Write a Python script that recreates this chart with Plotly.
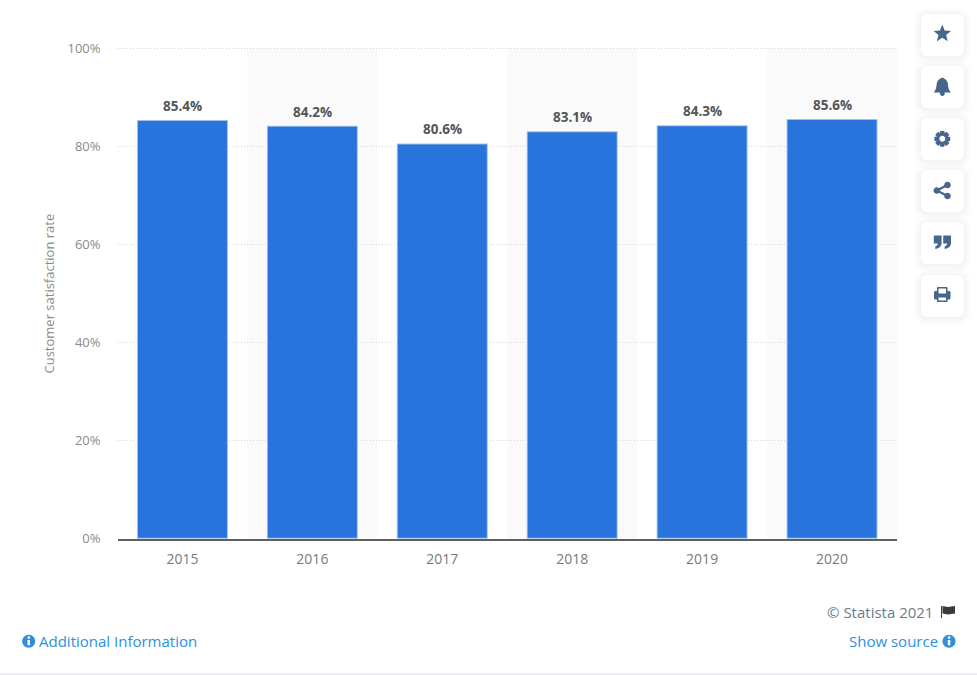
import math
import plotly.graph_objects as go

years = ["2015", "2016", "2017", "2018", "2019", "2020"]
satisfaction = [85.4, 84.2, 80.6, 83.1, 84.3, 85.6]
y_ticks = [0, 20, 40, 60, 80, 100]
y_title = "Customer satisfaction rate"

W, H = 977, 675
L, R, T, B = 117.5, 897, 48.3, 538.7
HEAD = 0.4  # axis headroom above 100 so the 100% gridline is kept
FONT = "Open Sans"
ICON = "#46668c"
BLUE = "#2874dc"
LINK = "#2e8fe0"


def px(x):
    return x / W


def py(y):
    return 1 - y / H


def path(cmds):
    out = []
    for c in cmds:
        if isinstance(c, str):
            out.append(c)
        else:
            out.append(f"{px(c[0]):.5f},{py(c[1]):.5f}")
    return " ".join(out)


def poly(pts):
    s = []
    for i, p in enumerate(pts):
        s += ["M" if i == 0 else "L", p]
    return path(s + ["Z"])


def rrect(x0, y0, x1, y1, r):
    k = 0.45 * r
    return path([
        "M", (x0 + r, y0), "L", (x1 - r, y0), "C", (x1 - k, y0), (x1, y0 + k), (x1, y0 + r),
        "L", (x1, y1 - r), "C", (x1, y1 - k), (x1 - k, y1), (x1 - r, y1),
        "L", (x0 + r, y1), "C", (x0 + k, y1), (x0, y1 - k), (x0, y1 - r),
        "L", (x0, y0 + r), "C", (x0, y0 + k), (x0 + k, y0), (x0 + r, y0), "Z",
    ])


def circle(cx, cy, r):
    return rrect(cx - r, cy - r, cx + r, cy + r, r)


def fill(p, color, opacity=1.0):
    return dict(type="path", xref="paper", yref="paper", path=p, fillcolor=color,
                line=dict(width=0), opacity=opacity, layer="above")


shapes = []

# alternating column bands behind the bars
for i in range(1, len(years), 2):
    shapes.append(dict(type="rect", xref="x", yref="paper", x0=i - 0.5, x1=i + 0.5,
                       y0=py(B), y1=py(T), fillcolor="#fafafa", line=dict(width=0), layer="below"))

# page footer rule
shapes.append(dict(type="rect", xref="paper", yref="paper", x0=0, x1=1, y0=py(675), y1=py(673.3),
                   fillcolor="#e9ebee", line=dict(width=0), layer="above"))

# tool buttons
btn_tops = [14, 66, 118, 170, 222, 275]
for top in btn_tops:
    for grow, op in ((7, 0.010), (5, 0.014), (3, 0.016), (1.5, 0.02)):
        shapes.append(fill(rrect(921 - grow, top - grow + 1, 964 + grow, top + 42 + grow + 1, 6 + grow), "#3c5064", op))
    shapes.append(fill(rrect(921, top, 964, top + 42, 6), "#ffffff"))

# star
cx, cy = 942.3, 33.8
shapes.append(fill(poly([(cx + (9.2 if k % 2 == 0 else 4.0) * math.sin(k * math.pi / 5),
                          cy - (9.2 if k % 2 == 0 else 4.0) * math.cos(k * math.pi / 5)) for k in range(10)]), ICON))
# bell
cx, cy = 942.3, 86.5
shapes.append(fill(path(["M", (cx - 8.5, cy + 6), "C", (cx - 5.5, cy + 2), (cx - 6, cy - 1), (cx - 5.5, cy - 3),
                         "C", (cx - 5, cy - 6.5), (cx - 2, cy - 8), (cx, cy - 9),
                         "C", (cx + 2, cy - 8), (cx + 5, cy - 6.5), (cx + 5.5, cy - 3),
                         "C", (cx + 6, cy - 1), (cx + 5.5, cy + 2), (cx + 8.5, cy + 6), "Z"]), ICON))
shapes.append(fill(circle(cx, cy + 7, 2.4), ICON))
# gear
cx, cy = 942.3, 138.8
pts = []
for k in range(8):
    a = k * math.pi / 4
    pts.append((cx + 8.2 * math.sin(a - 0.26), cy - 8.2 * math.cos(a - 0.26)))
    pts.append((cx + 8.2 * math.sin(a + 0.26), cy - 8.2 * math.cos(a + 0.26)))
    pts.append((cx + 5.8 * math.sin(a + 0.42), cy - 5.8 * math.cos(a + 0.42)))
    pts.append((cx + 5.8 * math.sin(a + math.pi / 4 - 0.42), cy - 5.8 * math.cos(a + math.pi / 4 - 0.42)))
shapes.append(fill(poly(pts), ICON))
shapes.append(fill(circle(cx, cy, 3.0), "#ffffff"))
# share
a, b, c = (936.8, 190.5), (947.5, 185), (947.5, 196)
shapes.append(fill(poly([(a[0], a[1] - 1.2), (b[0], b[1] - 1.2), (b[0], b[1] + 1.2), (a[0], a[1] + 1.2)]), ICON))
shapes.append(fill(poly([(a[0], a[1] - 1.2), (c[0], c[1] - 1.2), (c[0], c[1] + 1.2), (a[0], a[1] + 1.2)]), ICON))
shapes.append(fill(circle(*a, 3.3), ICON))
shapes.append(fill(circle(*b, 3.3), ICON))
shapes.append(fill(circle(*c, 3.3), ICON))
# quote marks
for dx in (933.8, 943.2):
    shapes.append(fill(path(["M", (dx, 235.5), "L", (dx + 7.8, 235.5), "L", (dx + 7.8, 243),
                             "C", (dx + 7.8, 246.5), (dx + 5, 248.5), (dx + 1.5, 249),
                             "L", (dx + 1.5, 246.3), "C", (dx + 3, 246), (dx + 4, 245), (dx + 4, 243.5),
                             "L", (dx, 243.5), "Z"]), ICON))
# printer
shapes.append(fill(rrect(934, 291, 950.5, 299.5, 1.5), ICON))
shapes.append(fill(rrect(937, 287, 947.5, 295, 1), ICON))
shapes.append(fill(rrect(938.5, 288.5, 946, 293.5, 0.5), "#ffffff"))
shapes.append(fill(rrect(937, 296.5, 947.5, 302, 0.5), ICON))
shapes.append(fill(rrect(938.5, 297.5, 946, 300.5, 0.3), "#ffffff"))

# flag
shapes.append(fill(poly([(941, 606), (942, 606), (942, 618), (941, 618)]), "#3a3a3a"))
shapes.append(fill(poly([(942.5, 606), (948, 607), (955, 606), (955, 613.5), (948, 614.5), (942.5, 613.5)]), "#3a3a3a"))

# info icons
for ix in (28.7, 949):
    shapes.append(fill(circle(ix, 641.3, 6.5), LINK))
    shapes.append(fill(rrect(ix - 1.2, 640, ix + 1.3, 645.3, 0.2), "#ffffff"))
    shapes.append(fill(circle(ix + 0.1, 637.6, 1.3), "#ffffff"))

annotations = [
    dict(xref="paper", yref="paper", x=px(48.5), y=py((213 + 375) / 2), text=y_title, textangle=-90,
         showarrow=False, xanchor="center", yanchor="middle",
         font=dict(family=FONT, size=13, color="#8a8a8a")),
    dict(xref="paper", yref="paper", x=px(935), y=py(611.5), text="© Statista 2021", showarrow=False,
         xanchor="right", yanchor="middle", font=dict(family=FONT, size=15, color="#6e7a85")),
    dict(xref="paper", yref="paper", x=px(37), y=py(640.5), text="Additional Information", showarrow=False,
         xanchor="left", yanchor="middle", font=dict(family=FONT, size=15, color=LINK)),
    dict(xref="paper", yref="paper", x=px(940), y=py(640.5), text="Show source", showarrow=False,
         xanchor="right", yanchor="middle", font=dict(family=FONT, size=15, color=LINK)),
]
for i, v in enumerate(satisfaction):
    annotations.append(dict(x=i, y=v, yref="y", xref="x", text=f"{v}%", showarrow=False,
                            yanchor="bottom", yshift=3,
                            font=dict(family=FONT, size=13.5, color="#555555", weight="bold")))

fig = go.Figure(go.Bar(x=years, y=satisfaction,
                       marker=dict(color=BLUE, line=dict(width=2, color="rgba(255,255,255,0.55)")),
                       width=0.70, hoverinfo="x+y"))

axis_top_px = T - (B - T) * HEAD / 100

fig.update_layout(
    template="none",
    width=W, height=H, autosize=False,
    margin=dict(l=0, r=0, t=0, b=0, pad=0),
    paper_bgcolor="#ffffff", plot_bgcolor="rgba(0,0,0,0)",
    showlegend=False, shapes=shapes, annotations=annotations,
    xaxis=dict(domain=[px(L), px(R)], type="category", range=[-0.5, 5.5], autorange=False, automargin=False,
               showgrid=False, ticks="", ticklen=0, ticklabelstandoff=6,
               tickfont=dict(family=FONT, size=14, color="#7a7a7a"), showline=True,
               linecolor="#5f5f5f", linewidth=2, zeroline=False, anchor="y"),
    yaxis=dict(domain=[py(B), py(axis_top_px)], range=[0, 100 + HEAD], autorange=False, automargin=False,
               tickvals=y_ticks, ticktext=[f"{t}%" for t in y_ticks], ticklabelstandoff=16,
               showgrid=True, gridcolor="#d6d6d6", griddash="1px,2px", gridwidth=1, zeroline=False,
               tickfont=dict(family=FONT, size=13, color="#8a8a8a"), ticks="", showline=False),
)

fig.write_html("out.html", config=dict(displayModeBar=False),
               post_script="document.body.style.margin='0';document.documentElement.style.overflow='hidden';")
